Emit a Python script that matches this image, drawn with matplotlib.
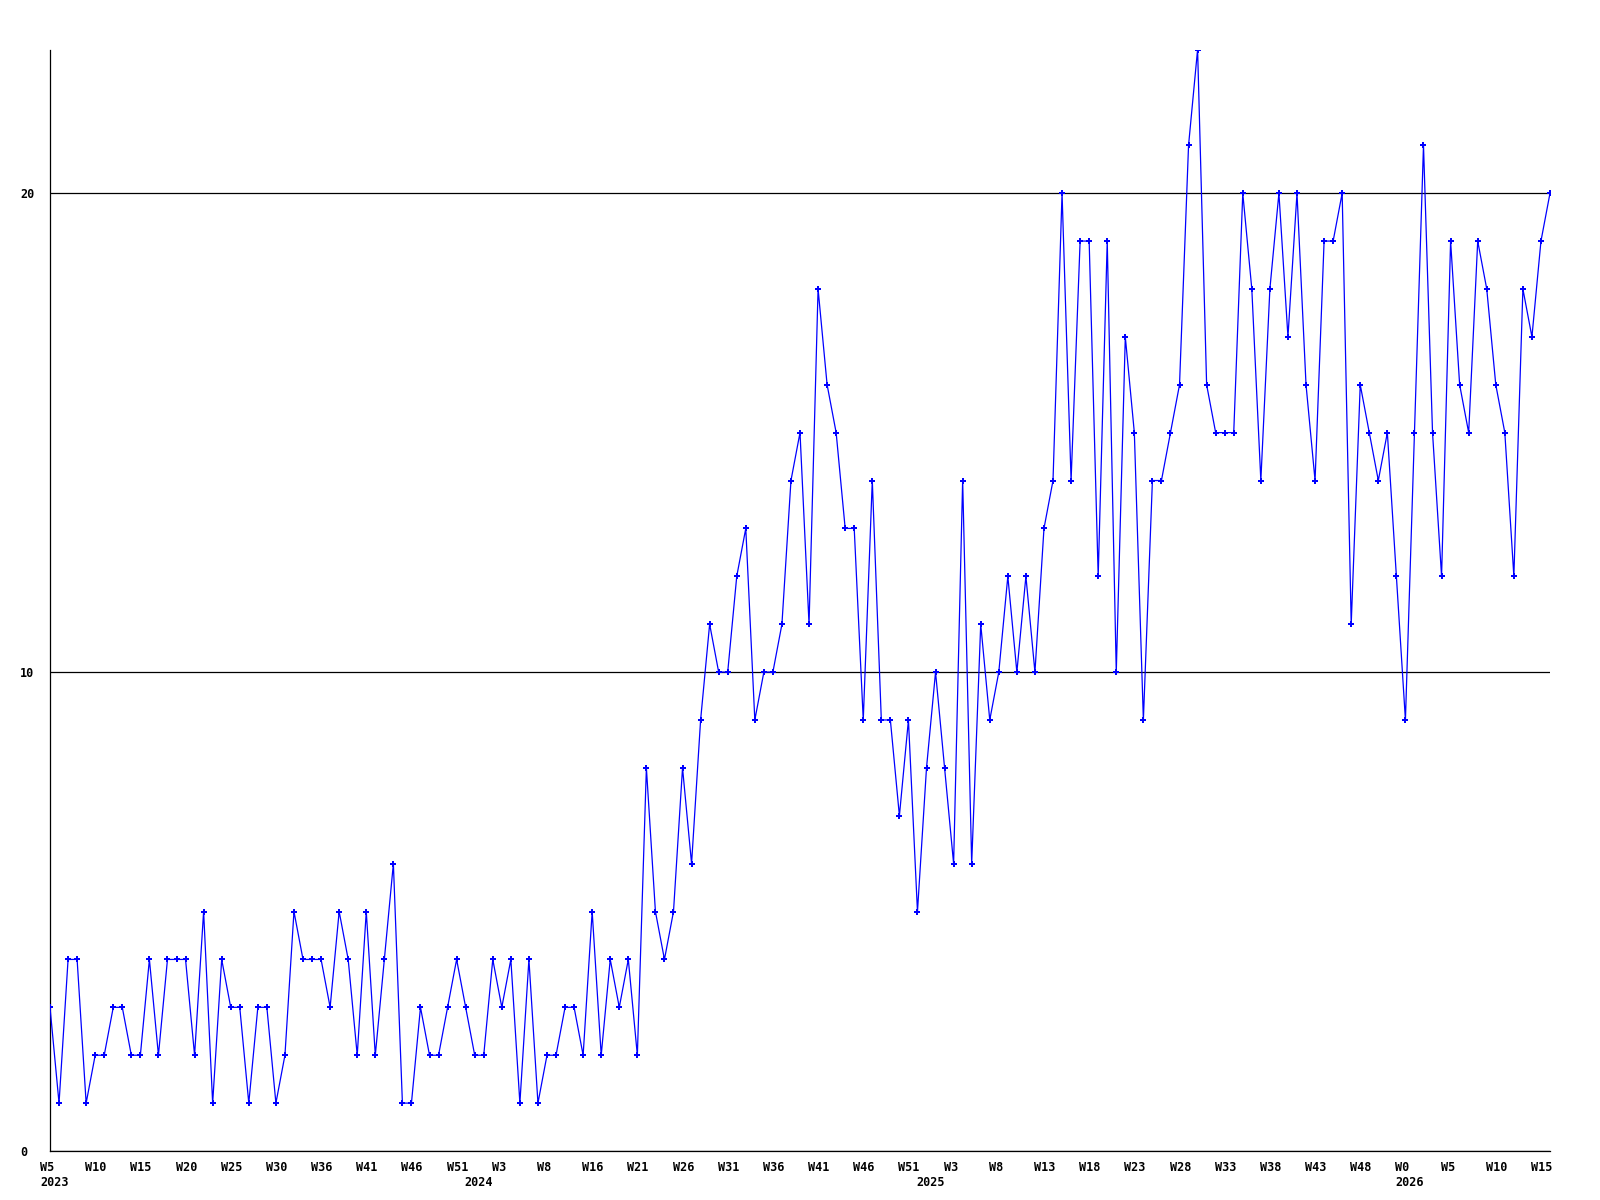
import matplotlib
matplotlib.use("Agg")
import matplotlib.pyplot as plt
from matplotlib.transforms import offset_copy

# weekly values, W5 2023 .. W15 2026 (one point per week shown)
valores = [
    3, 1, 4, 4, 1, 2, 2, 3, 3, 2, 2, 4, 2, 4, 4, 4, 2, 5, 1, 4,
    3, 3, 1, 3, 3, 1, 2, 5, 4, 4, 4, 3, 5, 4, 2, 5, 2, 4, 6, 1,
    1, 3, 2, 2, 3, 4, 3, 2, 2, 4, 3, 4, 1, 4, 1, 2, 2, 3, 3, 2,
    5, 2, 4, 3, 4, 2, 8, 5, 4, 5, 8, 6, 9, 11, 10, 10, 12, 13, 9, 10,
    10, 11, 14, 15, 11, 18, 16, 15, 13, 13, 9, 14, 9, 9, 7, 9, 5, 8, 10, 8,
    6, 14, 6, 11, 9, 10, 12, 10, 12, 10, 13, 14, 20, 14, 19, 19, 12, 19, 10, 17,
    15, 9, 14, 14, 15, 16, 21, 23, 16, 15, 15, 15, 20, 18, 14, 18, 20, 17, 20, 16,
    14, 19, 19, 20, 11, 16, 15, 14, 15, 12, 9, 15, 21, 15, 12, 19, 16, 15, 19, 18,
    16, 15, 12, 18, 17, 19, 20,
]

pos_semanas = [0, 5, 10, 15, 20, 25, 30, 35, 40, 45, 50, 55, 60, 65, 70, 75, 80,
               85, 90, 95, 100, 105, 110, 115, 120, 125, 130, 135, 140, 145, 150,
               155, 160, 165]
etiquetas_semanas = ["W5", "W10", "W15", "W20", "W25", "W30", "W36", "W41", "W46",
                     "W51", "W3", "W8", "W16", "W21", "W26", "W31", "W36", "W41",
                     "W46", "W51", "W3", "W8", "W13", "W18", "W23", "W28", "W33",
                     "W38", "W43", "W48", "W0", "W5", "W10", "W15"]
pos_anios = [0, 47, 97, 150]
etiquetas_anios = ["2023", "2024", "2025", "2026"]
yticks = [0, 10, 20]

fuente = {"family": "DejaVu Sans Mono", "weight": "bold", "size": 8.5}

fig = plt.figure(figsize=(16, 12), dpi=100)
ax = fig.add_axes([50 / 1600, 49 / 1200, 1500 / 1600, 1101.5 / 1200])

x = list(range(len(valores)))
ax.plot(x, valores, color="#0000ff", lw=0.9, marker="P", markersize=3.8,
        markeredgewidth=0, zorder=3)

ax.set_xlim(0, len(valores) - 1)
ax.set_ylim(0, 23)

ax.set_yticks(yticks)
ax.set_yticklabels([str(v) for v in yticks], ha="left", fontdict=fuente)
ax.tick_params(axis="y", length=0, pad=21.6)
ax.set_xticks([])
ax.grid(axis="y", color="black", lw=0.9)
ax.set_axisbelow(True)

for lado in ["top", "right"]:
    ax.spines[lado].set_visible(False)
for lado in ["left", "bottom"]:
    ax.spines[lado].set_color("black")
    ax.spines[lado].set_linewidth(0.9)

trans_sem = offset_copy(ax.get_xaxis_transform(), fig=fig, x=-10, y=-10, units="dots")
for p, t in zip(pos_semanas, etiquetas_semanas):
    ax.text(p, 0, t, transform=trans_sem, ha="left", va="top", fontdict=fuente)

trans_anio = offset_copy(ax.get_xaxis_transform(), fig=fig, x=-10, y=-25, units="dots")
for p, t in zip(pos_anios, etiquetas_anios):
    ax.text(p, 0, t, transform=trans_anio, ha="left", va="top", fontdict=fuente)

fig.savefig("out.png", dpi=100)
